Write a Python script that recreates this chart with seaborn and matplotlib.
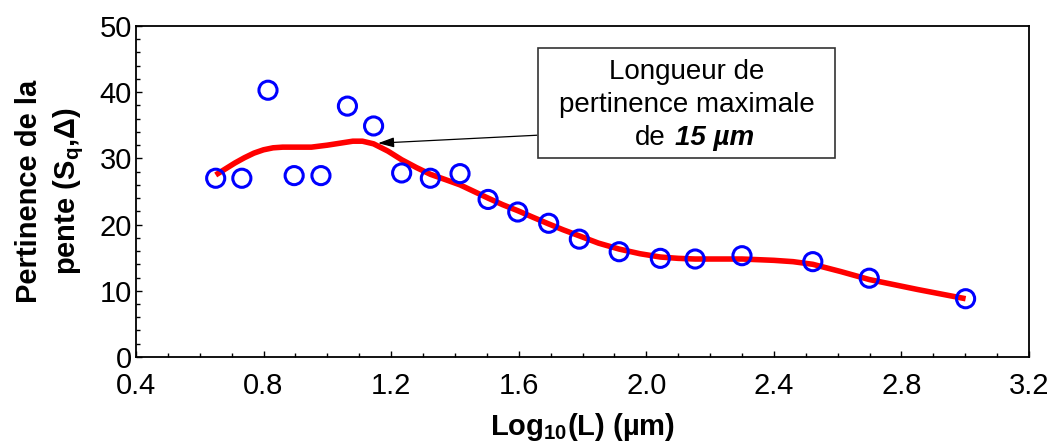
import matplotlib
matplotlib.use("Agg")
import matplotlib.pyplot as plt
import seaborn as sns
import pandas as pd
from matplotlib.patches import Rectangle
from matplotlib.ticker import MultipleLocator

sns.set_theme(style="ticks")
plt.rcParams['font.family'] = ['Liberation Sans', 'DejaVu Sans']
plt.rcParams['mathtext.fontset'] = 'custom'
plt.rcParams['mathtext.rm'] = 'Liberation Sans'
plt.rcParams['mathtext.bf'] = 'Liberation Sans:bold'
plt.rcParams['mathtext.it'] = 'Liberation Sans:italic'

# measured points
log_l = [0.65, 0.732, 0.814, 0.896, 0.980, 1.063, 1.145, 1.233, 1.323, 1.416,
         1.504, 1.597, 1.694, 1.79, 1.915, 2.044, 2.153, 2.30, 2.522, 2.699, 3.001]
pertinence = [27.0, 27.0, 40.3, 27.4, 27.4, 37.9, 34.9, 27.8, 27.0, 27.7,
              23.8, 21.9, 20.2, 17.8, 15.9, 14.9, 14.8, 15.3, 14.4, 11.9, 8.8]

# smooth fit curve
fit_x = [0.65, 0.68, 0.71, 0.74, 0.77, 0.80, 0.83, 0.86, 0.90, 0.95, 1.00, 1.04,
         1.08, 1.11, 1.145, 1.19, 1.233, 1.28, 1.323, 1.37, 1.416, 1.46, 1.504,
         1.55, 1.597, 1.645, 1.694, 1.74, 1.79, 1.85, 1.915, 1.98, 2.044, 2.10,
         2.153, 2.22, 2.30, 2.40, 2.46, 2.522, 2.61, 2.699, 2.85, 3.001]
fit_y = [27.5, 28.4, 29.3, 30.1, 30.8, 31.3, 31.6, 31.7, 31.7, 31.7, 32.0, 32.3,
         32.6, 32.6, 32.2, 31.1, 29.8, 28.6, 27.6, 26.8, 26.0, 25.0, 24.0,
         23.0, 22.1, 21.1, 20.1, 19.2, 18.3, 17.2, 16.3, 15.6, 15.1, 14.9,
         14.8, 14.8, 14.8, 14.6, 14.4, 14.0, 12.9, 11.7, 10.2, 8.8]

x_ticks = [0.4, 0.8, 1.2, 1.6, 2.0, 2.4, 2.8, 3.2]
x_tick_labels = ["0.4", "0.8", "1.2", "1.6", "2.0", "2.4", "2.8", "3.2"]
y_ticks = [0, 10, 20, 30, 40, 50]

annot_lines = ["Longueur de", "pertinence maximale"]
annot_de = "de"
annot_value = "15 µm"

pts = pd.DataFrame({"x": log_l, "y": pertinence})
fit = pd.DataFrame({"x": fit_x, "y": fit_y})

fig = plt.figure(figsize=(10.49, 4.44), dpi=100)
ax = fig.add_axes([0.1296, 0.196, 0.8514, 0.7454])

sns.lineplot(data=fit, x="x", y="y", ax=ax, color="#ff0000", lw=4, sort=False,
             solid_capstyle="butt", zorder=2)
sns.scatterplot(data=pts, x="x", y="y", ax=ax, marker="o", s=170,
                facecolor="none", edgecolor="#0000ff", linewidth=2.2, zorder=3)

ax.set_xlim(0.4, 3.2)
ax.set_ylim(0, 50)
ax.set_xticks(x_ticks)
ax.set_xticklabels(x_tick_labels)
ax.set_yticks(y_ticks)
ax.xaxis.set_minor_locator(MultipleLocator(0.1))
ax.yaxis.set_minor_locator(MultipleLocator(2))
ax.tick_params(axis="both", which="both", direction="in", labelsize=21,
               color="black", labelcolor="black")
ax.tick_params(which="major", length=4, width=1)
ax.tick_params(which="minor", length=3, width=1)
ax.tick_params(axis="x", pad=11)
ax.tick_params(axis="y", pad=3)
for lbl in ax.get_yticklabels():
    lbl.set_verticalalignment("center_baseline")
for s in ax.spines.values():
    s.set_color("black")
    s.set_linewidth(1.3)

ax.set_xlabel(r"Log$_{\mathbf{10}}$(L) (µm)", fontsize=21, fontweight="bold",
              color="black", labelpad=8)
ax.set_ylabel("Pertinence de la\npente (S$_{\\mathbf{q}}$,Δ)", fontsize=21,
              fontweight="bold", color="black", labelpad=10, linespacing=1.35)

# annotation box
ax.add_patch(Rectangle((1.66, 30.06), 0.932, 16.62, fill=False, edgecolor="#333333",
                       lw=1.2, zorder=4))
ax.text(2.128, 43.1, annot_lines[0], ha="center", va="center", fontsize=20, color="black")
ax.text(2.128, 38.1, annot_lines[1], ha="center", va="center", fontsize=20, color="black")
ax.text(2.062, 33.1, annot_de, ha="right", va="center", fontsize=20, color="black")
ax.text(2.09, 33.1, annot_value, ha="left", va="center", fontsize=20, color="black",
        fontweight="bold", fontstyle="italic")
ax.annotate("", xy=(1.159, 32.3), xytext=(1.657, 33.5),
            arrowprops=dict(arrowstyle="-|>,head_length=0.8,head_width=0.25",
                            color="black", lw=0.9, shrinkA=0, shrinkB=0))

fig.savefig("out.png", dpi=100)
